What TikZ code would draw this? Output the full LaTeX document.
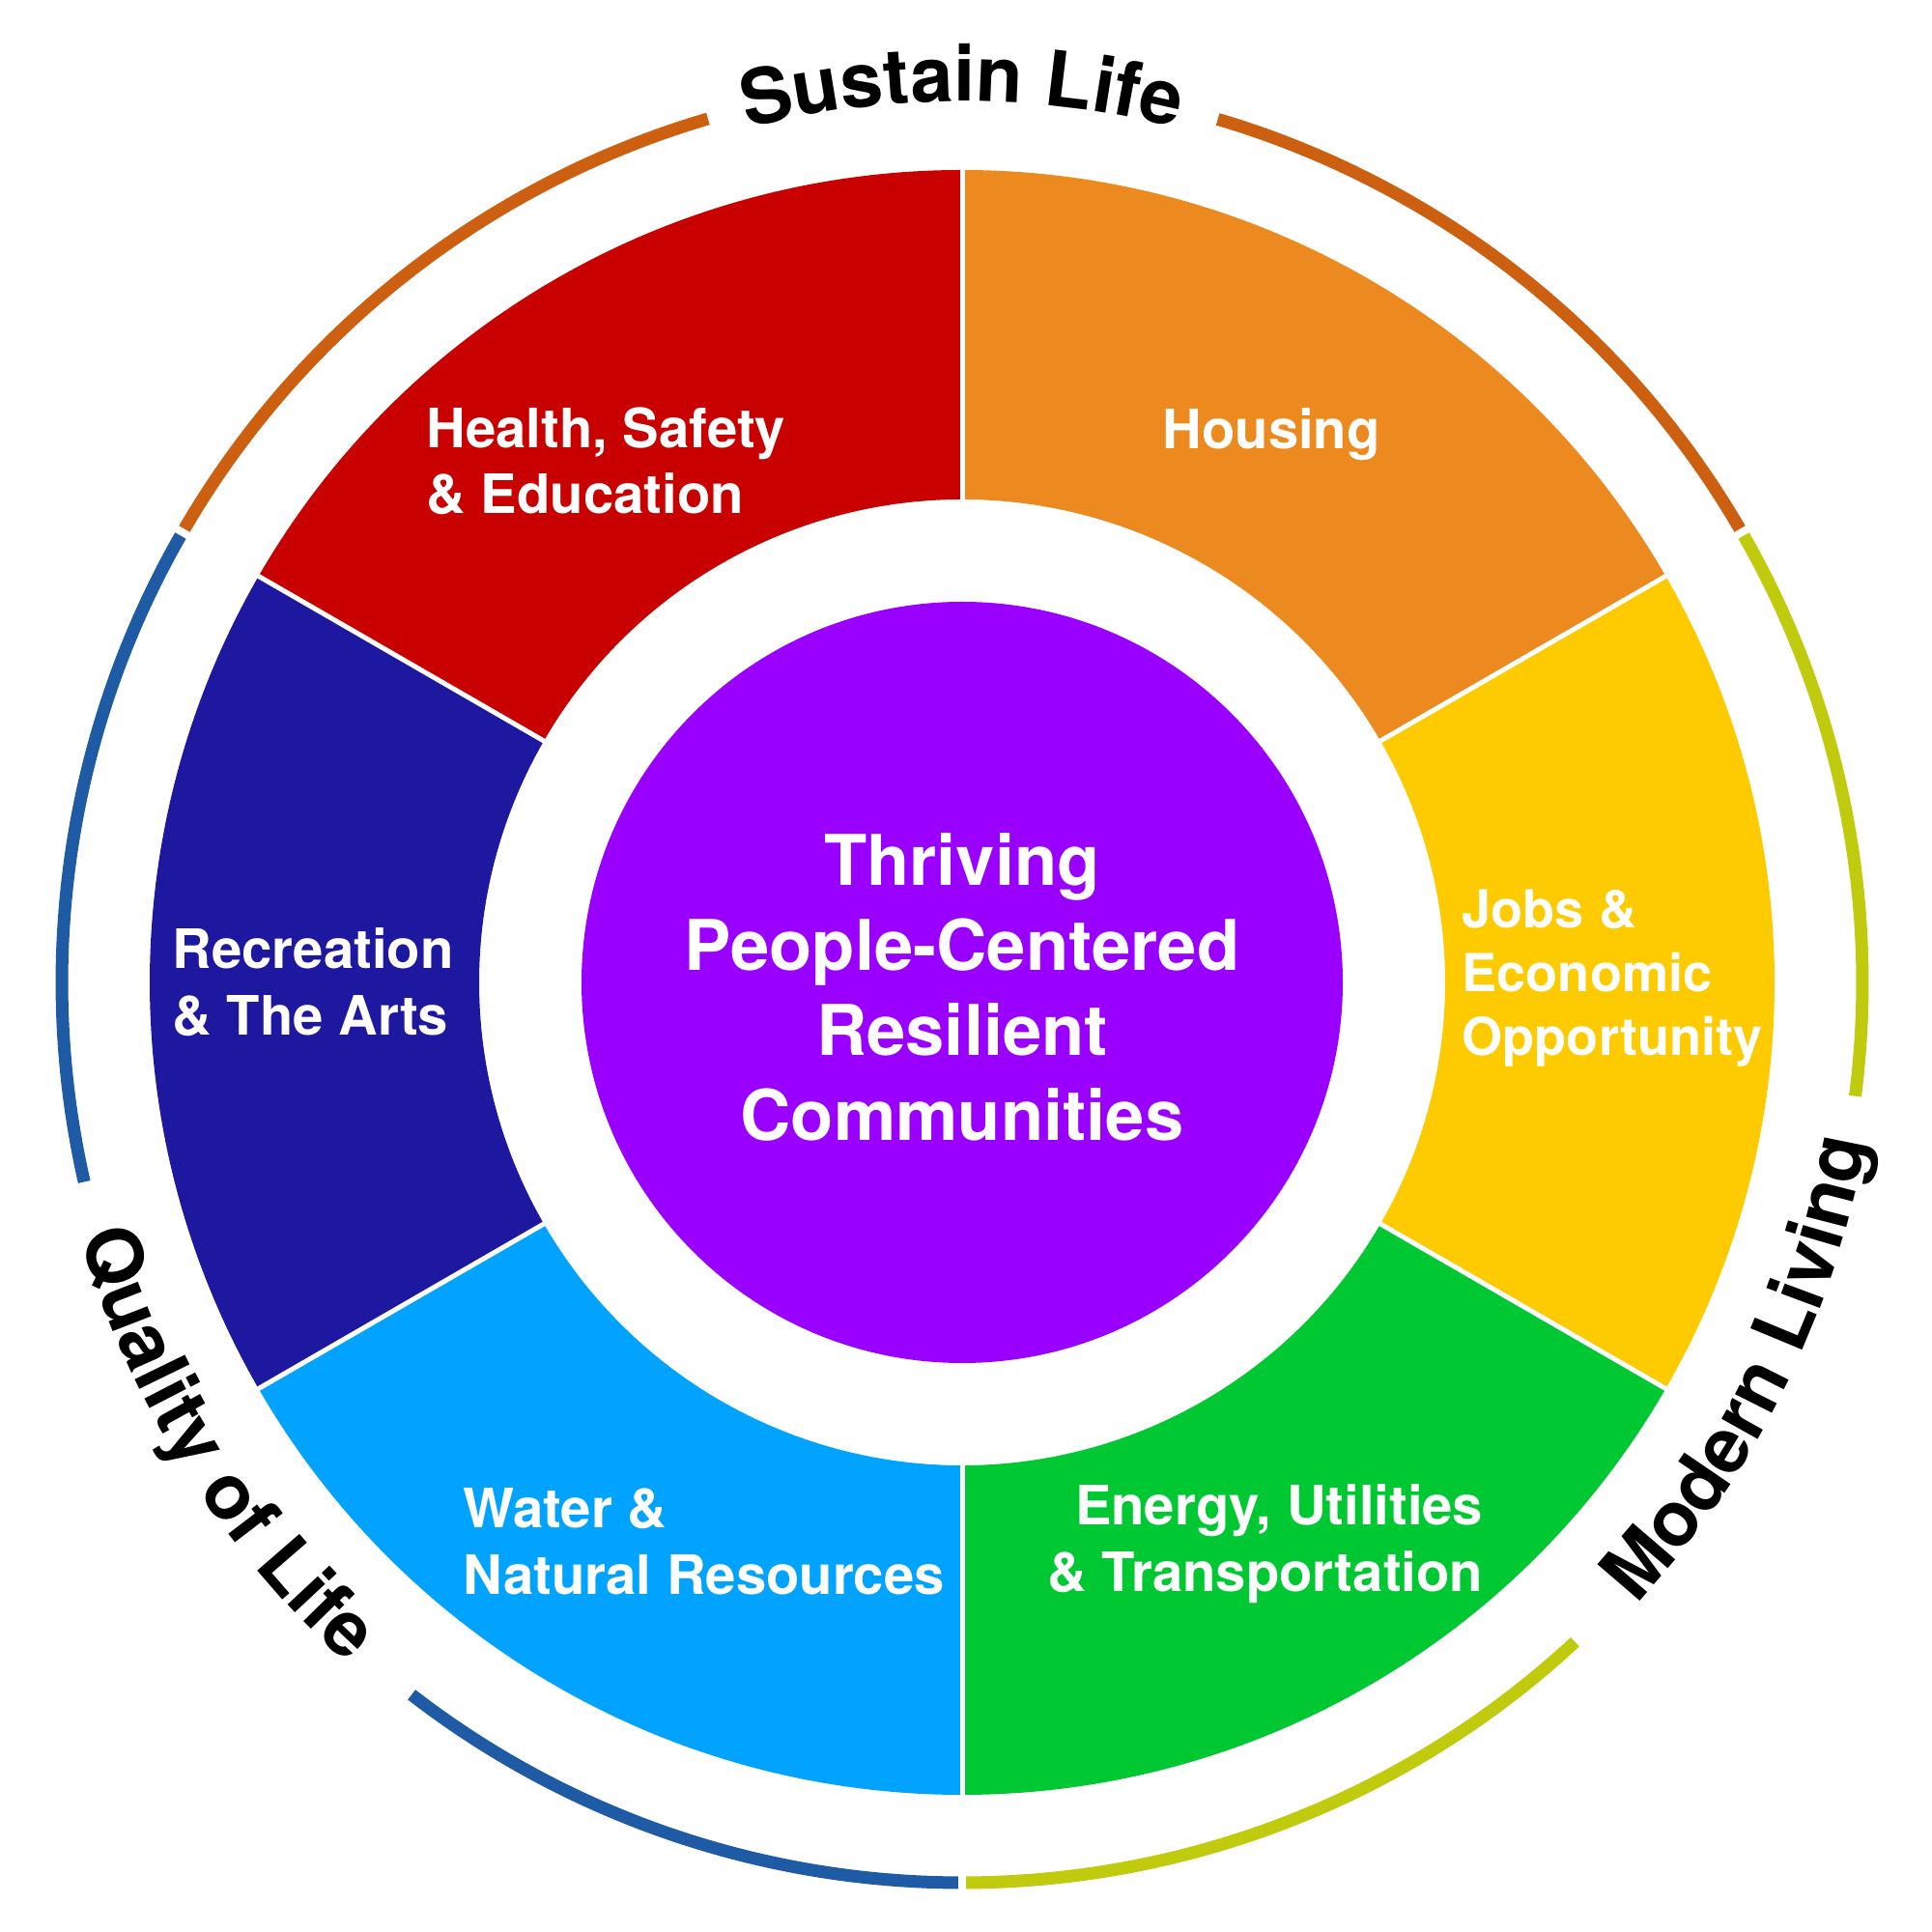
\documentclass[tikz,border=0pt]{standalone}
\usepackage{fontspec}
\setmainfont{TeX Gyre Heros}
\usetikzlibrary{decorations.text}
\definecolor{segred}{HTML}{C80000}
\definecolor{segorange}{HTML}{EC8A1F}
\definecolor{segyellow}{HTML}{FDCB00}
\definecolor{seggreen}{HTML}{00C832}
\definecolor{seglblue}{HTML}{00A3FF}
\definecolor{segdblue}{HTML}{1E17A0}
\definecolor{segpurple}{HTML}{9900FF}
\definecolor{arcbrown}{HTML}{CC6010}
\definecolor{arcyg}{HTML}{BFCB0C}
\definecolor{arcblue}{HTML}{1F5AA4}
\newcommand\arcfnt{\fontsize{22.6}{24}\selectfont\bfseries}
\tikzset{
  lbl/.style={text=white, inner sep=0pt, font=\fontsize{16}{19.5}\selectfont\bfseries},
  smalllbl/.style={text=white, inner sep=0pt, font=\fontsize{15.4}{18.8}\selectfont\bfseries},
  ctr/.style={text=white, inner sep=0pt, align=center, font=\fontsize{20.6}{25}\selectfont\bfseries},
  outerarc/.style={line width=0.13cm},
  divider/.style={white, line width=0.05cm},
  arctext/.style={decorate, decoration={text along path, text align=center, text={|\arcfnt|#1}}}
}
\begin{document}
\begin{tikzpicture}
\useasboundingbox (0,0) rectangle (20,20);
\fill[white] (0,0) rectangle (20,20);
\coordinate (C) at (9.96,9.83);
\begin{scope}[shift={(9.96,9.83)}]
  % ring segments
  \fill[segorange] (30:8.41) arc[start angle=30,end angle=90,radius=8.41] -- (90:5) arc[start angle=90,end angle=30,radius=5] -- cycle;
  \fill[segred] (90:8.41) arc[start angle=90,end angle=150,radius=8.41] -- (150:5) arc[start angle=150,end angle=90,radius=5] -- cycle;
  \fill[segdblue] (150:8.41) arc[start angle=150,end angle=210,radius=8.41] -- (210:5) arc[start angle=210,end angle=150,radius=5] -- cycle;
  \fill[seglblue] (210:8.41) arc[start angle=210,end angle=270,radius=8.41] -- (270:5) arc[start angle=270,end angle=210,radius=5] -- cycle;
  \fill[seggreen] (-90:8.41) arc[start angle=-90,end angle=-30,radius=8.41] -- (-30:5) arc[start angle=-30,end angle=-90,radius=5] -- cycle;
  \fill[segyellow] (-30:8.41) arc[start angle=-30,end angle=30,radius=8.41] -- (30:5) arc[start angle=30,end angle=-30,radius=5] -- cycle;
  \foreach \a in {30,90,150,210,270,330}
    \draw[divider] (\a:4.9) -- (\a:8.5);
  % centre disc
  \fill[segpurple] (0,0) circle (3.94);
  % outer arcs
  \draw[outerarc, arcbrown] (106.4:9.32) arc[start angle=106.4,end angle=149.75,radius=9.32];
  \draw[outerarc, arcbrown] (30.25:9.32) arc[start angle=30.25,end angle=73.5,radius=9.32];
  \draw[outerarc, arcyg] (-7.25:9.32) arc[start angle=-7.25,end angle=29.75,radius=9.32];
  \draw[outerarc, arcyg] (-89.75:9.32) arc[start angle=-89.75,end angle=-47.1,radius=9.32];
  \draw[outerarc, arcblue] (150.25:9.32) arc[start angle=150.25,end angle=192.8,radius=9.32];
  \draw[outerarc, arcblue] (232.3:9.32) arc[start angle=232.3,end angle=269.75,radius=9.32];
  % curved titles
  \path[arctext={Sustain Life}] (140:9.12) arc[start angle=140,end angle=40,radius=9.12];
  \path[arctext={Modern Living}] (-76.3:9.5) arc[start angle=-76.3,end angle=23.7,radius=9.5];
  \path[arctext={Quality of Life}] (162:9.5) arc[start angle=162,end angle=262,radius=9.5];
\end{scope}
% labels
\node[lbl, anchor=north west, align=left] (health) at (4.41,15.79) {Health, Safety\\\& Education};
\node[lbl, anchor=north west] (housing) at (12.03,15.78) {Housing};
\node[smalllbl, anchor=north west, align=left] (jobs) at (15.13,10.80) {Jobs \&\\Economic\\Opportunity};
\node[lbl, anchor=north east, align=right] (energy) at (15.36,4.64) {Energy, Utilities\\\& Transportation};
\node[lbl, anchor=north west, align=left] (water) at (4.79,4.60) {Water \&\\Natural Resources};
\node[lbl, anchor=north west, align=left] (rec) at (1.78,10.40) {Recreation\\\& The Arts};
\node[ctr, anchor=north] (centre) at (9.96,11.38) {Thriving\\People-Centered\\Resilient\\Communities};
\end{tikzpicture}
\end{document}
